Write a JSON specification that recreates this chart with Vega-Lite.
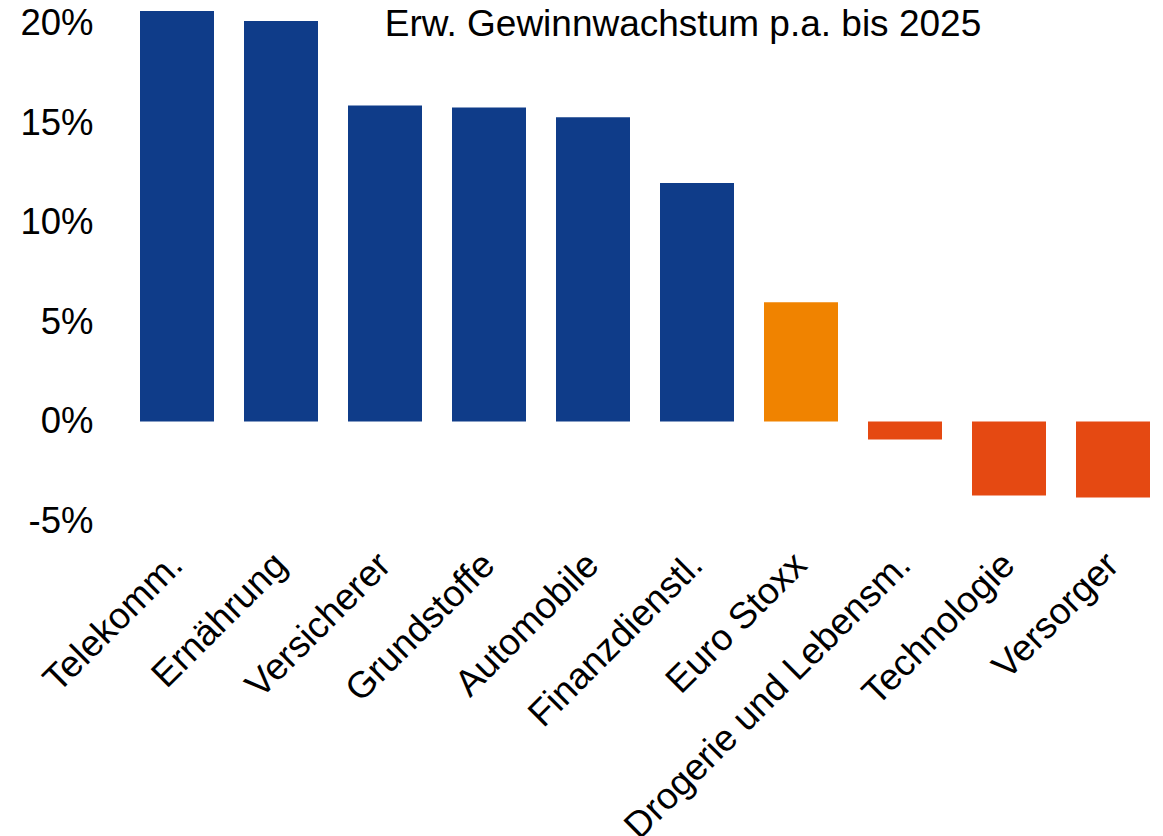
{
  "$schema": "https://vega.github.io/schema/vega-lite/v6.json",
  "autosize": "none",
  "width": 1010,
  "height": 521,
  "padding": {"left": 140, "top": 0, "right": 13, "bottom": 315},
  "background": "white",
  "title": {
    "text": "Erw. Gewinnwachstum p.a. bis 2025",
    "orient": "top",
    "anchor": "middle",
    "frame": "group",
    "offset": 0,
    "dx": 38,
    "dy": 73,
    "baseline": "alphabetic",
    "font": "Liberation Sans",
    "fontSize": 37,
    "fontWeight": "normal",
    "color": "#000000"
  },
  "data": {
    "values": [
      {"sektor": "Telekomm.", "wert": 20.65, "gruppe": "Sektor"},
      {"sektor": "Ernährung", "wert": 20.15, "gruppe": "Sektor"},
      {"sektor": "Versicherer", "wert": 15.9, "gruppe": "Sektor"},
      {"sektor": "Grundstoffe", "wert": 15.8, "gruppe": "Sektor"},
      {"sektor": "Automobile", "wert": 15.3, "gruppe": "Sektor"},
      {"sektor": "Finanzdienstl.", "wert": 12.0, "gruppe": "Sektor"},
      {"sektor": "Euro Stoxx", "wert": 6.0, "gruppe": "Index"},
      {"sektor": "Drogerie und Lebensm.", "wert": -0.9, "gruppe": "Negativ"},
      {"sektor": "Technologie", "wert": -3.72, "gruppe": "Negativ"},
      {"sektor": "Versorger", "wert": -3.82, "gruppe": "Negativ"}
    ]
  },
  "mark": {"type": "bar"},
  "encoding": {
    "x": {
      "field": "sektor",
      "type": "nominal",
      "sort": null,
      "scale": {"paddingInner": 0.2885, "paddingOuter": 0},
      "axis": {
        "title": null,
        "labelAngle": -45,
        "labelAlign": "right",
        "labelBaseline": "middle",
        "labelFont": "Liberation Sans",
        "labelFontSize": 37,
        "labelColor": "#000000",
        "labelPadding": 38,
        "ticks": false,
        "domain": false,
        "grid": false,
        "labelLimit": 0
      }
    },
    "y": {
      "field": "wert",
      "type": "quantitative",
      "scale": {"domain": [-5, 21.2], "nice": false, "zero": true},
      "axis": {
        "title": null,
        "values": [-5, 0, 5, 10, 15, 20],
        "labelExpr": "datum.value + '%'",
        "labelFont": "Liberation Sans",
        "labelFontSize": 36.5,
        "labelColor": "#000000",
        "labelPadding": 47,
        "ticks": false,
        "domain": false,
        "grid": false
      }
    },
    "color": {
      "field": "gruppe",
      "type": "nominal",
      "scale": {"domain": ["Sektor", "Index", "Negativ"], "range": ["#0F3C89", "#F08300", "#E54912"]},
      "legend": null
    }
  },
  "config": {"view": {"stroke": null}}
}
